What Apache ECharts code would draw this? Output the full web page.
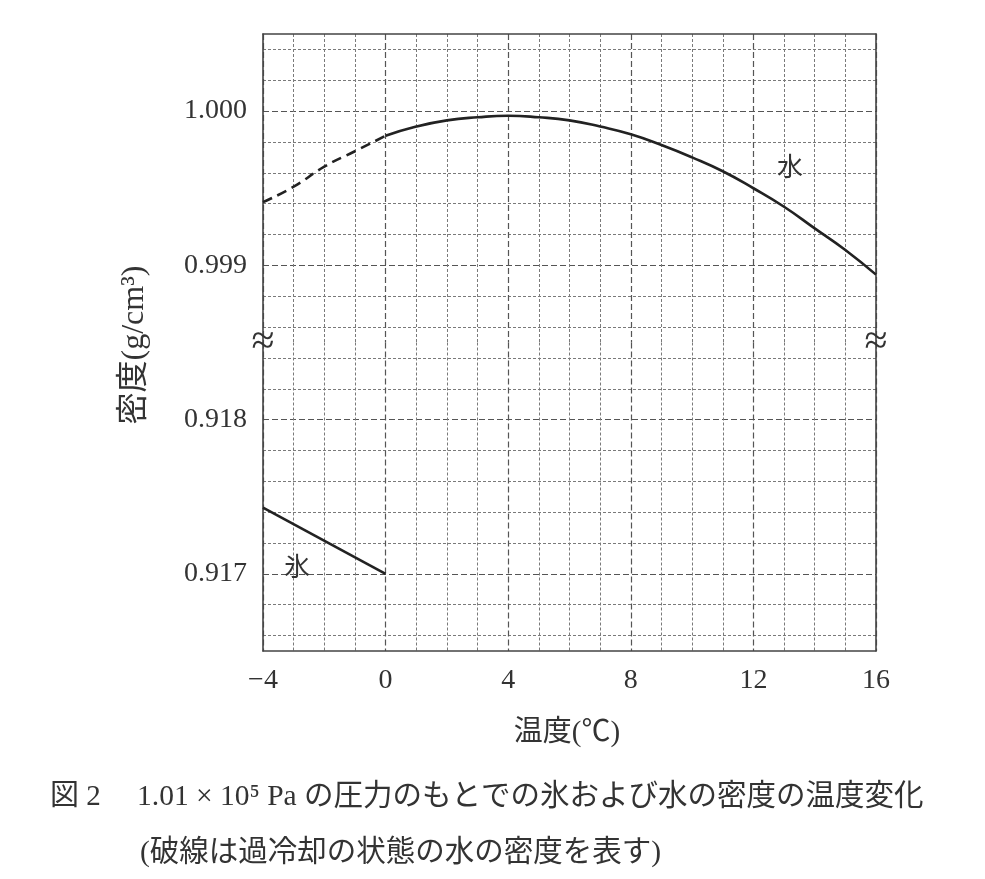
<!DOCTYPE html>
<html>
<head>
<meta charset="utf-8">
<script src="https://cdn.jsdelivr.net/npm/echarts@6/dist/echarts.min.js"></script>
<style>
html,body{margin:0;padding:0;background:#fff;}
#chart{width:985px;height:879px;}
</style>
</head>
<body>
<div id="chart"></div>
<script>
// ---- data ----
var superTemps = [-4, -3, -2, -1, 0];
var superDensity = [0.99941, 0.99951, 0.99964, 0.99974, 0.99984];
var waterTemps = [0, 1, 2, 3, 4, 5, 6, 7, 8, 9, 10, 11, 12, 13, 14, 15, 16];
var waterDensity = [0.99984, 0.99990, 0.99994, 0.99996, 0.99997, 0.99996, 0.99994, 0.99990, 0.99985,
                    0.99978, 0.99970, 0.99961, 0.99950, 0.99938, 0.99924, 0.99910, 0.99894];
var iceTemps = [-4, 0];
var iceDensity = [0.91743, 0.91700];
var xTickLabels = [-4, 0, 4, 8, 12, 16];
var yTickLabelsUpper = [0.999, 1.000];
var yTickLabelsLower = [0.917, 0.918];
var upperRange = [0.9985, 1.0005];
var lowerRange = [0.9165, 0.9185];

function pairs(xs, ys) { return xs.map(function (x, i) { return [x, ys[i]]; }); }

var SERIF = '"Liberation Serif", "DejaVu Serif", "Noto Sans CJK JP", serif';
var CJK = '"Liberation Serif", "Noto Sans CJK JP", serif';
var TXT = '#333';
var MAJOR = '#555';
var MINOR = '#7a7a7a';
var T = 'rgba(0,0,0,0)';

function yLabel(list) {
  return function (v) {
    for (var i = 0; i < list.length; i++) {
      if (Math.abs(v - list[i]) < 1e-7) return list[i].toFixed(3);
    }
    return '';
  };
}

function majorY(gridIndex, range, labels) {
  return {
    type: 'value', gridIndex: gridIndex, position: 'left',
    min: range[0], max: range[1], interval: 0.0005,
    axisLine: { show: true, onZero: false, lineStyle: { color: '#444', width: 1.6 } },
    axisTick: { show: false },
    axisLabel: { formatter: yLabel(labels), fontFamily: SERIF, fontSize: 28, color: TXT, margin: 16 },
    splitLine: { show: true, lineStyle: { color: [T, MAJOR], width: 1.2, type: [6, 3] } }
  };
}
function minorY(gridIndex, range) {
  return {
    type: 'value', gridIndex: gridIndex, position: 'right',
    min: range[0], max: range[1], interval: 0.0001,
    axisLine: { show: true, onZero: false, lineStyle: { color: '#444', width: 1.6 } },
    axisTick: { show: false },
    axisLabel: { show: false },
    splitLine: { show: true, lineStyle: { color: [T, MINOR, T, MINOR, T, T, T, MINOR, T, MINOR], width: 1, type: [3, 2] } }
  };
}
function xAx(gridIndex, pos, showLabel) {
  return {
    type: 'value', gridIndex: gridIndex, position: pos,
    min: -4, max: 16, interval: 4,
    axisLine: { show: true, onZero: false, lineStyle: { color: '#444', width: 1.6 } },
    axisTick: { show: false },
    minorTick: { show: false, splitNumber: 4 },
    axisLabel: {
      show: showLabel, fontFamily: SERIF, fontSize: 28, color: TXT, margin: 16,
      formatter: function (v) {
        if (xTickLabels.indexOf(v) < 0) return '';
        return v < 0 ? '\u2212' + Math.abs(v) : String(v);
      }
    },
    splitLine: { show: true, lineStyle: { color: MAJOR, width: 1.2, type: [6, 3] } },
    minorSplitLine: { show: true, lineStyle: { color: MINOR, width: 1, type: [3, 2] } }
  };
}

var chart = echarts.init(document.getElementById('chart'), null, { renderer: 'canvas' });
chart.setOption({
  backgroundColor: '#fff',
  animation: false,
  grid: [
    { left: 263, right: 109, top: 34, height: 308.5 },
    { left: 263, right: 109, top: 342.5, height: 308.5 }
  ],
  xAxis: [xAx(0, 'top', false), xAx(1, 'bottom', true)],
  yAxis: [majorY(0, upperRange, yTickLabelsUpper), minorY(0, upperRange),
          majorY(1, lowerRange, yTickLabelsLower), minorY(1, lowerRange)],
  series: [
    { name: '過冷却水', type: 'line', xAxisIndex: 0, yAxisIndex: 0, data: pairs(superTemps, superDensity),
      smooth: true, showSymbol: false, lineStyle: { color: '#222', width: 2.6, type: [10, 6] }, z: 5 },
    { name: '水', type: 'line', xAxisIndex: 0, yAxisIndex: 0, data: pairs(waterTemps, waterDensity),
      smooth: true, showSymbol: false, lineStyle: { color: '#222', width: 2.6 }, z: 5 },
    { name: '氷', type: 'line', xAxisIndex: 1, yAxisIndex: 2, data: pairs(iceTemps, iceDensity),
      smooth: false, showSymbol: false, lineStyle: { color: '#222', width: 2.6 }, z: 5 }
  ],
  graphic: [
    { type: 'text', x: 263, y: 343, z: 10, style: { text: '≈', font: '42px ' + SERIF, fill: '#333', align: 'center', verticalAlign: 'middle' } },
    { type: 'text', x: 876, y: 343, z: 10, style: { text: '≈', font: '42px ' + SERIF, fill: '#333', align: 'center', verticalAlign: 'middle' } },
    { type: 'text', x: 790, y: 166, z: 10, style: { text: '水', font: '26px "Noto Sans CJK JP"', fill: TXT, align: 'center', verticalAlign: 'middle' } },
    { type: 'text', x: 297, y: 566, z: 10, style: { text: '氷', font: '26px "Noto Sans CJK JP"', fill: TXT, align: 'center', verticalAlign: 'middle' } },
    { type: 'text', x: 135, y: 345, rotation: Math.PI / 2, z: 10, style: { text: '密度(g/cm³)', font: '32px ' + CJK, fill: TXT, align: 'center', verticalAlign: 'middle' } },
    { type: 'text', x: 567, y: 733, z: 10, style: { text: '温度(℃)', font: '29px ' + CJK, fill: TXT, align: 'center', verticalAlign: 'middle' } },
    { type: 'text', x: 50, y: 797, z: 10, style: { text: '図 2', font: '29px ' + CJK, fill: TXT, align: 'left', verticalAlign: 'middle' } },
    { type: 'text', x: 137, y: 797, z: 10, style: { text: '1.01 × 10⁵ Pa の圧力のもとでの氷および水の密度の温度変化', font: '29.5px ' + CJK, fill: TXT, align: 'left', verticalAlign: 'middle' } },
    { type: 'text', x: 140, y: 853, z: 10, style: { text: '(破線は過冷却の状態の水の密度を表す)', font: '29.5px ' + CJK, fill: TXT, align: 'left', verticalAlign: 'middle' } }
  ]
});
</script>
</body>
</html>
